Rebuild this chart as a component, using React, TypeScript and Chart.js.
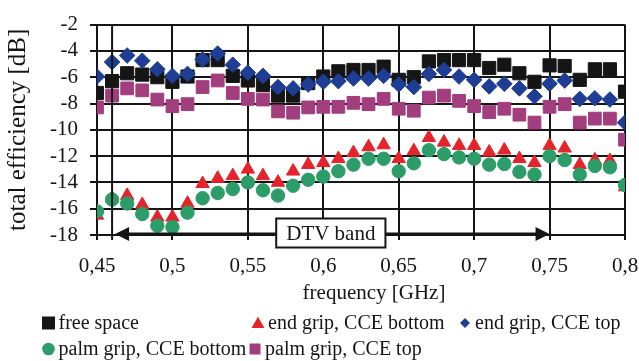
import { useEffect, useRef } from 'react';
import { Chart, registerables } from 'chart.js';

Chart.register(...registerables);

// ---------- data ----------
const frequencies = [
  0.45, 0.46, 0.47, 0.48, 0.49, 0.5, 0.51, 0.52, 0.53, 0.54, 0.55, 0.56,
  0.57, 0.58, 0.59, 0.6, 0.61, 0.62, 0.63, 0.64, 0.65, 0.66, 0.67, 0.68,
  0.69, 0.7, 0.71, 0.72, 0.73, 0.74, 0.75, 0.76, 0.77, 0.78, 0.79, 0.8,
];

const freeSpace = [
  -7.2, -6.3, -5.7, -5.8, -6.0, -6.35, -5.95, -4.7, -4.7, -5.9, -6.25, -6.6,
  -7.4, -7.4, -6.45, -5.95, -5.55, -5.45, -5.45, -5.2, -6.2, -6.0, -4.8, -4.7,
  -4.7, -4.7, -5.3, -5.05, -5.7, -6.35, -5.1, -5.15, -6.2, -5.4, -5.4, -7.1,
];

const endGripBottom = [
  -16.5, -15.2, -15.0, -15.7, -16.65, -16.65, -15.6, -14.1, -13.7, -13.5, -13.0, -13.5,
  -14.0, -13.15, -12.65, -12.5, -12.2, -11.75, -11.3, -11.15, -12.2, -11.6, -10.6, -10.95,
  -11.2, -11.2, -11.7, -11.55, -12.2, -12.5, -11.2, -11.4, -12.65, -12.3, -12.35, -14.35,
];

const endGripTop = [
  -5.95, -4.85, -4.35, -4.75, -5.4, -5.9, -5.75, -4.65, -4.2, -5.05, -5.65, -5.9,
  -6.75, -6.85, -6.55, -6.35, -6.3, -6.1, -6.1, -5.9, -6.55, -6.75, -5.75, -5.45,
  -5.95, -6.2, -6.7, -6.5, -6.85, -7.45, -6.5, -6.25, -7.65, -7.6, -7.7, -9.45,
];

const palmGripBottom = [
  -16.2, -15.3, -15.6, -16.4, -17.3, -17.4, -16.3, -15.2, -14.8, -14.5, -14.0, -14.6,
  -15.0, -14.25, -13.8, -13.55, -13.15, -12.65, -12.2, -12.2, -13.15, -12.55, -11.55, -11.85,
  -12.1, -12.2, -12.65, -12.6, -13.2, -13.4, -12.0, -12.3, -13.4, -12.75, -12.85, -14.2,
];

const palmGripTop = [
  -8.3, -7.4, -6.85, -7.0, -7.7, -8.2, -8.05, -6.75, -6.25, -7.2, -7.65, -7.7,
  -8.6, -8.7, -8.3, -8.25, -8.25, -7.95, -8.05, -7.65, -8.4, -8.55, -7.55, -7.4,
  -7.8, -8.2, -8.65, -8.4, -8.85, -9.45, -8.25, -8.05, -9.45, -9.15, -9.15, -10.75,
];

const seriesLabels = [
  'free space',
  'end grip, CCE bottom',
  'end grip, CCE top',
  'palm grip, CCE bottom',
  'palm grip, CCE top',
];

const xTickLabels = ['0,45', '0,5', '0,55', '0,6', '0,65', '0,7', '0,75', '0,8'];
const yTickLabels = ['-18', '-16', '-14', '-12', '-10', '-8', '-6', '-4', '-2'];
const xTitle = 'frequency [GHz]';
const yTitle = 'total efficiency [dB]';

const dtvBand = [0.46, 0.75];
const dtvLevel = -18;
const dtvLabel = 'DTV band';

// ---------- styles ----------
const FONT = "'Liberation Serif', 'Times New Roman', serif";
const INK = '#151515';

type Style = { color: string; shape: string; radius: number; order: number; legendSize: number };
const seriesStyles: Style[] = [
  { color: '#151515', shape: 'rect', radius: 9.3, order: 5, legendSize: 6.5 },
  { color: '#E4232B', shape: 'triangle', radius: 7.7, order: 4, legendSize: 7.5 },
  { color: '#1E3D94', shape: 'rectRot', radius: 7.8, order: 3, legendSize: 5 },
  { color: '#2C9C68', shape: 'circle', radius: 6.7, order: 2, legendSize: 6.3 },
  { color: '#A23D7E', shape: 'rect', radius: 9.0, order: 1, legendSize: 5.5 },
];
const seriesValues = [freeSpace, endGripBottom, endGripTop, palmGripBottom, palmGripTop];

// legend grid positions (marker centre x, row y)
const legendSlots = [
  { x: 48.5, y: 323 },
  { x: 258, y: 323 },
  { x: 465, y: 323 },
  { x: 48.5, y: 349 },
  { x: 255, y: 349 },
];

function drawShape(ctx: CanvasRenderingContext2D, shape: string, x: number, y: number, s: number) {
  ctx.beginPath();
  if (shape === 'rect') {
    ctx.rect(x - s, y - s, 2 * s, 2 * s);
  } else if (shape === 'triangle') {
    for (let k = 0; k < 3; k++) {
      const a = (k * 2 * Math.PI) / 3;
      const px = x + Math.sin(a) * s;
      const py = y - Math.cos(a) * s + s * 0.15;
      if (k === 0) ctx.moveTo(px, py);
      else ctx.lineTo(px, py);
    }
    ctx.closePath();
  } else if (shape === 'rectRot') {
    ctx.moveTo(x, y - s);
    ctx.lineTo(x + s, y);
    ctx.lineTo(x, y + s);
    ctx.lineTo(x - s, y);
    ctx.closePath();
  } else {
    ctx.arc(x, y, s, 0, Math.PI * 2);
  }
  ctx.fill();
}

const legendPlugin = {
  id: 'gridLegend',
  afterDraw(chart: any) {
    const ctx: CanvasRenderingContext2D = chart.ctx;
    const area = chart.chartArea;
    ctx.save();
    // x axis title (slightly right of centre, as in the reference)
    ctx.font = `21px ${FONT}`;
    ctx.fillStyle = INK;
    ctx.textAlign = 'center';
    ctx.textBaseline = 'middle';
    ctx.fillText(xTitle, (area.left + area.right) / 2 + 13, 293);
    // legend
    ctx.font = `20px ${FONT}`;
    ctx.textAlign = 'left';
    seriesLabels.forEach((label, i) => {
      const st = seriesStyles[i];
      const slot = legendSlots[i];
      ctx.fillStyle = st.color;
      drawShape(ctx, st.shape, slot.x, slot.y, st.legendSize);
      ctx.fillStyle = INK;
      ctx.fillText(label, slot.x + 10, slot.y + 1);
    });
    ctx.restore();
  },
};

const dtvPlugin = {
  id: 'dtvBand',
  afterDraw(chart: any) {
    const { ctx, chartArea } = chart;
    const xs = chart.scales.x;
    const ys = chart.scales.y;
    const x0 = xs.getPixelForValue(dtvBand[0]);
    const x1 = xs.getPixelForValue(dtvBand[1]);
    const yy = ys.getPixelForValue(dtvLevel) - 1;
    ctx.save();
    ctx.strokeStyle = INK;
    ctx.fillStyle = INK;
    ctx.lineWidth = 2;
    ctx.beginPath();
    ctx.moveTo(x0, chartArea.top);
    ctx.lineTo(x0, chartArea.bottom + 5);
    ctx.stroke();
    ctx.lineWidth = 3;
    ctx.beginPath();
    ctx.moveTo(x0 + 8, yy);
    ctx.lineTo(x1 - 8, yy);
    ctx.stroke();
    // arrow heads
    ctx.beginPath();
    ctx.moveTo(x0 + 3, yy);
    ctx.lineTo(x0 + 17, yy - 7);
    ctx.lineTo(x0 + 17, yy + 7);
    ctx.closePath();
    ctx.fill();
    ctx.beginPath();
    ctx.moveTo(x1, yy);
    ctx.lineTo(x1 - 14, yy - 7);
    ctx.lineTo(x1 - 14, yy + 7);
    ctx.closePath();
    ctx.fill();
    // label box
    ctx.font = `21px ${FONT}`;
    const xm = (x0 + x1) / 2;
    const w = ctx.measureText(dtvLabel).width + 20;
    const h = 29;
    const yc = yy - 1;
    ctx.fillStyle = '#ffffff';
    ctx.fillRect(xm - w / 2, yc - h / 2, w, h);
    ctx.lineWidth = 2;
    ctx.strokeRect(xm - w / 2, yc - h / 2, w, h);
    ctx.fillStyle = INK;
    ctx.textAlign = 'center';
    ctx.textBaseline = 'middle';
    ctx.fillText(dtvLabel, xm, yc + 1);
    ctx.restore();
  },
};

export default function App() {
  const canvasRef = useRef<HTMLCanvasElement | null>(null);

  useEffect(() => {
    const canvas = canvasRef.current;
    if (!canvas) return;
    const datasets = seriesLabels.map((label, i) => {
      const st = seriesStyles[i];
      return {
        label,
        data: frequencies.map((f, k) => ({ x: f, y: seriesValues[i][k] })),
        showLine: false,
        pointStyle: st.shape,
        pointRadius: st.radius,
        pointHoverRadius: st.radius,
        pointBackgroundColor: st.color,
        pointBorderColor: st.color,
        pointBorderWidth: 1,
        backgroundColor: st.color,
        borderColor: st.color,
        order: st.order,
      };
    });

    const chart = new Chart(canvas, {
      type: 'scatter',
      data: { datasets: datasets as any },
      options: {
        animation: false,
        responsive: false,
        devicePixelRatio: 1,
        layout: { padding: { top: 15, right: 14, bottom: 0, left: 0 } },
        plugins: {
          legend: { display: false },
          tooltip: { enabled: false },
          title: { display: false },
        },
        scales: {
          x: {
            type: 'linear',
            min: 0.45,
            max: 0.8,
            ticks: {
              stepSize: 0.05,
              autoSkip: false,
              maxRotation: 0,
              color: INK,
              padding: 0,
              font: { family: FONT, size: 21, lineHeight: 2.55 },
              callback: (_v: any, i: number) => xTickLabels[i],
            },
            grid: { color: INK, lineWidth: 2, tickLength: 5, tickColor: INK, drawTicks: true },
            border: { color: INK, width: 2 },
            title: { display: false },
            afterFit: (s: any) => {
              s.height = 126;
            },
          },
          y: {
            type: 'linear',
            min: -18,
            max: -2,
            ticks: {
              stepSize: 2,
              autoSkip: false,
              color: INK,
              padding: 12,
              font: { family: FONT, size: 21 },
              callback: (_v: any, i: number) => yTickLabels[i],
            },
            grid: { color: INK, lineWidth: 2, tickLength: 7, tickColor: INK, drawTicks: true },
            border: { color: INK, width: 2 },
            title: {
              display: true,
              text: yTitle,
              color: INK,
              font: { family: FONT, size: 25, lineHeight: 1.2 },
              padding: { top: 3, bottom: 0 },
            },
            afterFit: (s: any) => {
              s.width = 97;
            },
          },
        },
      },
      plugins: [dtvPlugin, legendPlugin],
    });
    return () => chart.destroy();
  }, []);

  return (
    <div style={{ position: 'fixed', left: 0, top: 0, width: 639, height: 361, background: '#fff' }}>
      <canvas ref={canvasRef} width={639} height={361} />
    </div>
  );
}
